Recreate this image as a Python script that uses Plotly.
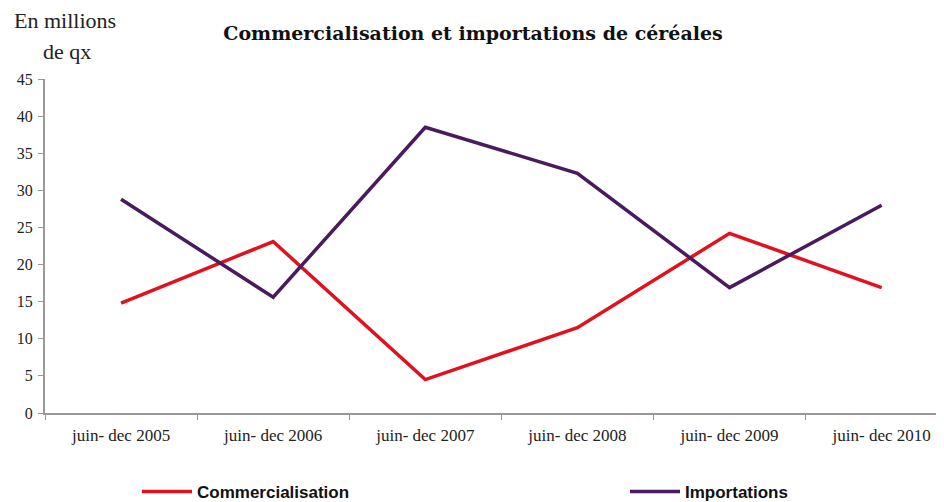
import plotly.graph_objects as go

categories = ["juin- dec 2005", "juin- dec 2006", "juin- dec 2007",
              "juin- dec 2008", "juin- dec 2009", "juin- dec 2010"]
commercialisation = [14.8, 23.1, 4.5, 11.5, 24.2, 16.9]
importations = [28.8, 15.6, 38.5, 32.3, 16.9, 28.0]
y_ticks = [0, 5, 10, 15, 20, 25, 30, 35, 40, 45]

serif = "Liberation Serif, Times New Roman, serif"

# page body has an 8px margin: work in screen pixels and shift
OFF = 8
W, H = 944 - OFF, 502 - OFF
L, T = 45 - OFF, 79 - OFF
B = H - (413 - OFF)
R = 0
PW, PH = W - L - R, H - T - B


def px_x(sx):
    return (sx - OFF - L) / PW


def px_y(sy):
    return (H - B - (sy - OFF)) / PH


fig = go.Figure()
fig.add_trace(go.Scatter(x=categories, y=commercialisation, mode="lines",
                         name="<b>Commercialisation</b>", legend="legend",
                         line=dict(color="#E0121F", width=3.5)))
fig.add_trace(go.Scatter(x=categories, y=importations, mode="lines",
                         name="<b>Importations</b>", legend="legend2",
                         line=dict(color="#4A1A5E", width=3.5)))

legend_font = dict(family="Liberation Sans, Arial, sans-serif",
                   size=17, color="#111")

fig.update_layout(
    template="none",
    width=W, height=H,
    margin=dict(l=L, r=R, t=T, b=B, autoexpand=False),
    paper_bgcolor="white", plot_bgcolor="white",
    title=dict(text="<b>Commercialisation et importations de céréales</b>",
               xref="container", x=(473 - OFF) / W, xanchor="center",
               y=1 - (33 - OFF) / H, yanchor="middle",
               font=dict(family="DejaVu Serif, serif", size=19, color="#111")),
    font=dict(family=serif, color="#222"),
    xaxis=dict(type="category", range=[-0.5, 5.41], showgrid=False,
               showline=True, linecolor="#999", linewidth=2,
               ticks="outside", tickcolor="#999", ticklen=5, tickwidth=1,
               tickson="boundaries", automargin=False,
               ticklabelstandoff=6,
               tickfont=dict(family=serif, size=17, color="#222")),
    yaxis=dict(range=[0, 45], tickvals=y_ticks, showgrid=False,
               showline=True, linecolor="#999", linewidth=2,
               ticks="outside", tickcolor="#999", ticklen=5, tickwidth=1,
               automargin=False, ticklabelstandoff=2,
               tickfont=dict(family=serif, size=16, color="#222"),
               zeroline=False),
    showlegend=True,
    legend=dict(orientation="h", x=px_x(145 - 8), xanchor="left",
                y=px_y(492), yanchor="middle", itemwidth=50,
                bgcolor="rgba(0,0,0,0)", font=legend_font),
    legend2=dict(orientation="h", x=px_x(633 - 8), xanchor="left",
                 y=px_y(492), yanchor="middle", itemwidth=50,
                 bgcolor="rgba(0,0,0,0)", font=legend_font),
)

fig.add_annotation(text="En millions", x=px_x(12), y=px_y(20),
                   xref="paper", yref="paper",
                   showarrow=False, xanchor="left", yanchor="middle",
                   font=dict(family=serif, size=22, color="#222"))
fig.add_annotation(text="de qx", x=px_x(41), y=px_y(52),
                   xref="paper", yref="paper",
                   showarrow=False, xanchor="left", yanchor="middle",
                   font=dict(family=serif, size=22, color="#222"))

fig.write_html("out.html")
